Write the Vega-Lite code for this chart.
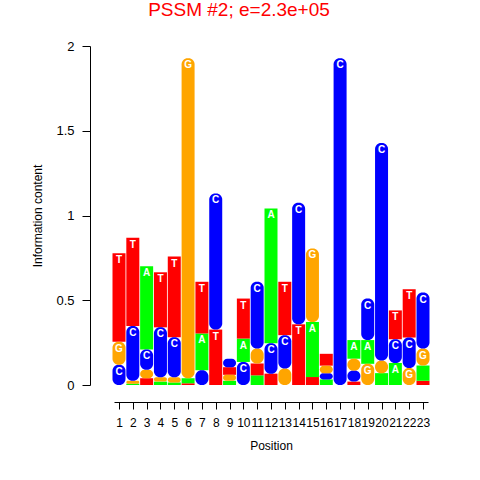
{
  "$schema": "https://vega.github.io/schema/vega-lite/v6.json",
  "autosize": "none",
  "width": 314,
  "height": 339,
  "padding": {"left": 114, "top": 46, "right": 52, "bottom": 95},
  "background": "white",
  "title": {
    "text": "PSSM #2; e=2.3e+05",
    "color": "#FF0000",
    "font": "Liberation Sans",
    "fontSize": 19,
    "fontWeight": "normal",
    "anchor": "middle",
    "baseline": "alphabetic",
    "dx": -32,
    "offset": 5
  },
  "config": {
    "view": {"stroke": null},
    "axis": {
      "labelFont": "Liberation Sans",
      "titleFont": "Liberation Sans",
      "labelColor": "#000000",
      "titleColor": "#000000",
      "domainColor": "#000000",
      "tickColor": "#000000",
      "titleFontWeight": "normal",
      "grid": false
    }
  },
  "data": {
    "values": [
      {"pos": 1, "base": "C", "h": 0.12},
      {"pos": 1, "base": "G", "h": 0.135},
      {"pos": 1, "base": "T", "h": 0.523},
      {"pos": 2, "base": "A", "h": 0.008},
      {"pos": 2, "base": "G", "h": 0.017},
      {"pos": 2, "base": "C", "h": 0.323},
      {"pos": 2, "base": "T", "h": 0.52},
      {"pos": 3, "base": "T", "h": 0.04},
      {"pos": 3, "base": "G", "h": 0.05},
      {"pos": 3, "base": "C", "h": 0.12},
      {"pos": 3, "base": "A", "h": 0.49},
      {"pos": 4, "base": "A", "h": 0.02},
      {"pos": 4, "base": "G", "h": 0.025},
      {"pos": 4, "base": "C", "h": 0.295},
      {"pos": 4, "base": "T", "h": 0.325},
      {"pos": 5, "base": "A", "h": 0.015},
      {"pos": 5, "base": "G", "h": 0.03},
      {"pos": 5, "base": "C", "h": 0.236},
      {"pos": 5, "base": "T", "h": 0.477},
      {"pos": 6, "base": "T", "h": 0.01},
      {"pos": 6, "base": "A", "h": 0.03},
      {"pos": 6, "base": "G", "h": 1.888},
      {"pos": 7, "base": "C", "h": 0.087},
      {"pos": 7, "base": "A", "h": 0.217},
      {"pos": 7, "base": "T", "h": 0.305},
      {"pos": 8, "base": "T", "h": 0.327},
      {"pos": 8, "base": "C", "h": 0.803},
      {"pos": 9, "base": "A", "h": 0.025},
      {"pos": 9, "base": "G", "h": 0.035},
      {"pos": 9, "base": "T", "h": 0.045},
      {"pos": 9, "base": "C", "h": 0.05},
      {"pos": 10, "base": "C", "h": 0.136},
      {"pos": 10, "base": "A", "h": 0.138},
      {"pos": 10, "base": "T", "h": 0.236},
      {"pos": 11, "base": "A", "h": 0.057},
      {"pos": 11, "base": "T", "h": 0.07},
      {"pos": 11, "base": "G", "h": 0.089},
      {"pos": 11, "base": "C", "h": 0.393},
      {"pos": 12, "base": "T", "h": 0.067},
      {"pos": 12, "base": "C", "h": 0.18},
      {"pos": 12, "base": "A", "h": 0.795},
      {"pos": 13, "base": "G", "h": 0.097},
      {"pos": 13, "base": "C", "h": 0.197},
      {"pos": 13, "base": "T", "h": 0.315},
      {"pos": 14, "base": "T", "h": 0.358},
      {"pos": 14, "base": "C", "h": 0.717},
      {"pos": 15, "base": "T", "h": 0.047},
      {"pos": 15, "base": "A", "h": 0.325},
      {"pos": 15, "base": "G", "h": 0.434},
      {"pos": 16, "base": "A", "h": 0.033},
      {"pos": 16, "base": "C", "h": 0.036},
      {"pos": 16, "base": "G", "h": 0.045},
      {"pos": 16, "base": "T", "h": 0.07},
      {"pos": 17, "base": "C", "h": 1.928},
      {"pos": 18, "base": "T", "h": 0.02},
      {"pos": 18, "base": "C", "h": 0.065},
      {"pos": 18, "base": "G", "h": 0.07},
      {"pos": 18, "base": "A", "h": 0.11},
      {"pos": 19, "base": "G", "h": 0.125},
      {"pos": 19, "base": "A", "h": 0.14},
      {"pos": 19, "base": "C", "h": 0.245},
      {"pos": 20, "base": "A", "h": 0.07},
      {"pos": 20, "base": "G", "h": 0.075},
      {"pos": 20, "base": "C", "h": 1.283},
      {"pos": 21, "base": "A", "h": 0.13},
      {"pos": 21, "base": "C", "h": 0.14},
      {"pos": 21, "base": "T", "h": 0.17},
      {"pos": 22, "base": "G", "h": 0.1},
      {"pos": 22, "base": "C", "h": 0.18},
      {"pos": 22, "base": "T", "h": 0.285},
      {"pos": 23, "base": "T", "h": 0.025},
      {"pos": 23, "base": "A", "h": 0.09},
      {"pos": 23, "base": "G", "h": 0.1},
      {"pos": 23, "base": "C", "h": 0.33}
    ]
  },
  "transform": [
    {"stack": "h", "groupby": ["pos"], "sort": [{"field": "h", "order": "ascending"}], "as": ["y0", "y1"]}
  ],
  "encoding": {
    "x": {
      "field": "pos", "type": "quantitative",
      "scale": {"domain": [1, 23], "nice": false, "zero": false},
      "axis": {
        "values": [1,2,3,4,5,6,7,8,9,10,11,12,13,14,15,16,17,18,19,20,21,22,23],
        "offset": 17, "tickSize": 7, "labelFontSize": 12, "labelPadding": 8,
        "labelAngle": 0, "labelOverlap": false, "labelFlush": false, "labelBound": false,
        "title": "Position", "titleFontSize": 12, "titlePadding": 12
      }
    },
    "y": {
      "field": "y1", "type": "quantitative",
      "scale": {"domain": [0, 2], "nice": false},
      "axis": {
        "values": [0, 0.5, 1, 1.5, 2], "format": "~g",
        "offset": 24, "tickSize": 8, "labelFontSize": 13, "labelPadding": 8,
        "labelFlush": false,
        "title": "Information content", "titleFontSize": 12, "titlePadding": 11
      }
    }
  },
  "layer": [
    {
      "transform": [{"filter": "datum.base === 'A' || datum.base === 'T'"}],
      "mark": {"type": "bar", "size": 13},
      "encoding": {
        "y2": {"field": "y0"},
        "color": {
          "field": "base", "type": "nominal",
          "scale": {"domain": ["A", "C", "G", "T"], "range": ["#00FF00", "#0000FF", "#FFA500", "#FF0000"]},
          "legend": null
        }
      }
    },
    {
      "transform": [{"filter": "datum.base === 'C' || datum.base === 'G'"}],
      "mark": {"type": "bar", "size": 13, "cornerRadius": 6},
      "encoding": {
        "y2": {"field": "y0"},
        "color": {"field": "base", "type": "nominal", "legend": null}
      }
    },
    {
      "transform": [{"filter": "datum.h >= 0.1"}],
      "mark": {"type": "text", "baseline": "top", "dy": 2, "fontSize": 10, "fontWeight": "bold", "font": "Liberation Sans", "color": "#FFFFFF"},
      "encoding": {
        "text": {"field": "base"}
      }
    }
  ]
}
